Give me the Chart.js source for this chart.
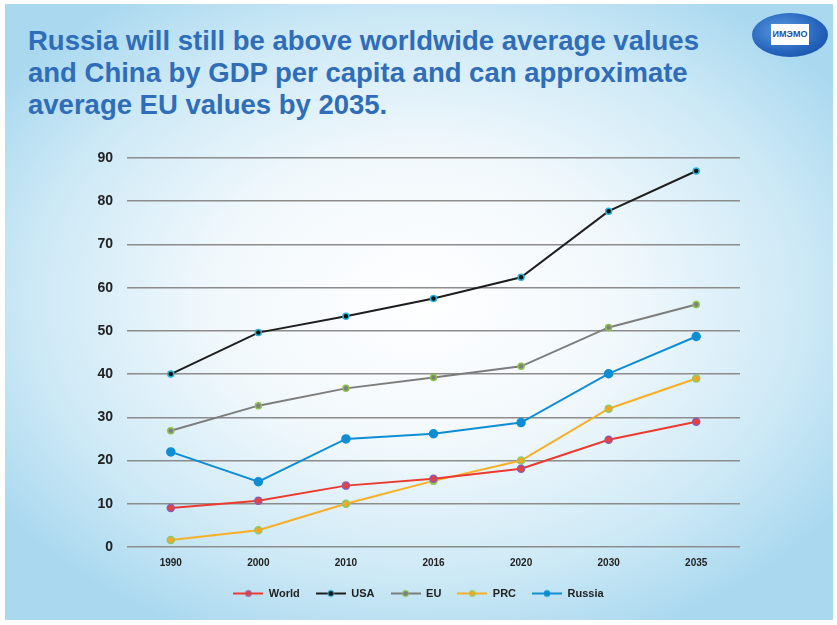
<!DOCTYPE html>
<html>
<head>
<meta charset="utf-8">
<script src="https://cdn.jsdelivr.net/npm/chart.js"></script>
<style>
  body { margin: 0; background: #fff; width: 837px; height: 625px; overflow: hidden; }
  #slide {
    position: absolute; left: 5px; top: 4px; width: 828px; height: 616px;
    background: radial-gradient(ellipse 62% 60% at 50% 48%, #ffffff 0%, #f1f8fc 40%, #cde9f6 75%, #a9d8ef 100%);
  }
  #title {
    position: absolute; left: 28px; top: 25px; margin: 0;
    font-family: "Liberation Sans", Arial, sans-serif; font-weight: bold;
    font-size: 27.5px; line-height: 32px; color: #2f6db8;
  }
  #logo {
    position: absolute; left: 752px; top: 13px; width: 76px; height: 44px; border-radius: 50%;
    background: radial-gradient(ellipse at 40% 40%, #5a9be2 0%, #2462bb 60%, #164799 100%);
  }
  #logo span {
    position: absolute; left: 19px; top: 11px; width: 38px; height: 21px; background: #fff;
    color: #1d4fa6; font: bold 9px "Liberation Sans", Arial, sans-serif; line-height: 21px; text-align: center;
  }
  #wrap { position: absolute; left: 0; top: 0; width: 837px; height: 625px; }
</style>
</head>
<body>
<div id="slide"></div>
<p id="title">Russia will still be above worldwide average values<br>and China by GDP per capita and can approximate<br>average EU values by 2035.</p>
<div id="logo"><span>ИМЭМО</span></div>
<div id="wrap"><canvas id="chart" width="837" height="625"></canvas></div>
<script>
const years = ['1990', '2000', '2010', '2016', '2020', '2030', '2035'];
const world = [9, 10.7, 14.2, 15.8, 18.1, 24.8, 29];
const usa = [40, 49.6, 53.4, 57.5, 62.4, 77.7, 87];
const eu = [26.9, 32.7, 36.7, 39.2, 41.8, 50.8, 56.1];
const prc = [1.6, 3.9, 10, 15.3, 20, 32, 39];
const russia = [22, 15.1, 25, 26.2, 28.8, 40.1, 48.7];

function legendIcon(line, fill, border) {
  const c = document.createElement('canvas');
  c.width = 30; c.height = 10;
  const g = c.getContext('2d');
  g.strokeStyle = line; g.lineWidth = 2;
  g.beginPath(); g.moveTo(0, 5); g.lineTo(30, 5); g.stroke();
  g.fillStyle = fill; g.strokeStyle = border; g.lineWidth = 1;
  g.beginPath(); g.arc(15, 5, 3, 0, Math.PI * 2); g.fill(); g.stroke();
  return c;
}

function series(label, data, line, fill, border, r) {
  return {
    label: label, data: data,
    borderColor: line, borderWidth: 2,
    pointBackgroundColor: fill, pointBorderColor: border,
    pointBorderWidth: 1.5, pointRadius: r,
    icon: legendIcon(line, fill, border)
  };
}

const datasets = [
  series('World', world, '#ec3a2f', '#e8403a', '#8a5bb0', 3.5),
  series('USA', usa, '#1e1e1e', '#111', '#2bb3d8', 3),
  series('EU', eu, '#7d7d7d', '#7f7f7f', '#8cc24a', 3),
  series('PRC', prc, '#f8ae25', '#f5a623', '#8cc96a', 3.5),
  series('Russia', russia, '#0d8ed3', '#0d8ed3', '#0d8ed3', 4)
];

// center the legend on the whole slide, not only on the plot width
const legendCenter = {
  id: 'legendCenter',
  afterLayout(chart) {
    const lg = chart.legend;
    lg.left = 0; lg.right = 837; lg.width = 837;
  }
};

new Chart(document.getElementById('chart'), {
  type: 'line',
  data: { labels: years, datasets: datasets },
  plugins: [legendCenter],
  options: {
    responsive: false,
    animation: false,
    layout: { padding: { top: 158, left: 0, right: 97, bottom: 16 } },
    scales: {
      x: {
        offset: true,
        grid: { display: false, drawTicks: false },
        border: { display: false },
        ticks: { color: '#222', font: { family: 'Liberation Sans', weight: 'bold', size: 10 }, padding: 10 },
        afterFit: s => { s.height = 25; }
      },
      y: {
        min: 0, max: 90,
        ticks: { stepSize: 10, color: '#222', font: { family: 'Liberation Sans', weight: 'bold', size: 14 }, padding: 14 },
        grid: { color: '#8c8c8c', lineWidth: 1.5, drawTicks: false },
        border: { display: false },
        afterFit: s => { s.width = 127; }
      }
    },
    plugins: {
      legend: {
        position: 'bottom',
        labels: {
          usePointStyle: true,
          pointStyleWidth: 30,
          color: '#222',
          font: { family: 'Liberation Sans', weight: 'bold', size: 11 },
          padding: 16,
          generateLabels: chart => Chart.defaults.plugins.legend.labels.generateLabels(chart)
            .map((it, i) => Object.assign(it, { pointStyle: chart.data.datasets[i].icon }))
        }
      },
      tooltip: { enabled: false }
    }
  }
});
</script>
</body>
</html>
